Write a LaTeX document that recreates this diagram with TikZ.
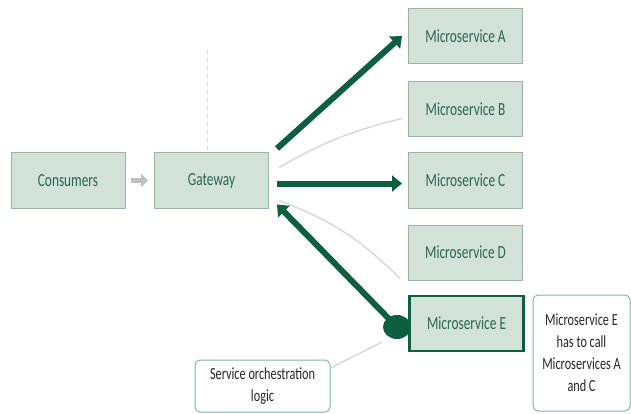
\documentclass[tikz,border=0pt]{standalone}
\usepackage{fontspec}
\setmainfont{Carlito}[FakeStretch=0.72]
\usetikzlibrary{arrows.meta}
\definecolor{boxfill}{HTML}{D3E2D8}
\definecolor{boxline}{HTML}{9DB3A4}
\definecolor{txt}{HTML}{2A6650}
\definecolor{dark}{HTML}{0E5E40}
\definecolor{faint}{HTML}{D4D4D4}
\definecolor{noteline}{HTML}{7FB8A4}
\begin{document}
\begin{tikzpicture}[x=1pt,y=-1pt,
  svc/.style={draw=boxline,line width=1pt,fill=boxfill,text=txt,minimum width=114pt,minimum height=55pt,font=\fontsize{18.5}{20}\selectfont,inner sep=0pt},
  note/.style={draw=noteline,line width=1pt,rounded corners=5pt,fill=white,text=black!85,font=\fontsize{17}{22}\selectfont,align=center,inner sep=0pt},
  flow/.style={draw=dark,line width=6pt,-{Triangle[length=10pt,width=16pt]}},
  side/.style={draw=faint,line width=1.3pt}]
\useasboundingbox (0,0) rectangle (631,414);
% gateway and consumers
\node[svc] (cons) at (68,180.5) {Consumers};
\node[svc] (gw) at (211.5,180.5) {Gateway};
% microservices
\node[svc] (a) at (465.5,36) {Microservice A};
\node[svc] (b) at (465.5,109.5) {Microservice B};
\node[svc] (c) at (465.5,180.5) {Microservice C};
\node[svc] (d) at (465.5,252.5) {Microservice D};
\node[svc,draw=dark,line width=2.5pt] (e) at (466.5,323.5) {Microservice E};
% annotations
\node[note,minimum width=97pt,minimum height=116pt] (n1) at (581.5,353) {Microservice E\\has to call\\Microservices A\\and C};
\node[note,minimum width=135pt,minimum height=52pt] (n2) at (262.5,386) {Service orchestration\\logic};
% consumer to gateway block arrow
\draw[draw=faint!90!black,line width=5pt,-{Triangle[length=7pt,width=13pt]}] (cons.east)++(5,0) -- ([xshift=-6pt]gw.west);
% dashed line above the gateway
\coordinate (top) at (207,50);
\draw[faint,line width=1pt,dash pattern=on 4pt off 4pt] (top) -- (gw.north -| top);
% calls from the gateway
\draw[flow] ([shift={(8,-32)}]gw.east) -- ([shift={(-6,0)}]a.west);
\draw[flow] ([shift={(8,3)}]gw.east) -- ([shift={(-6,3)}]c.west);
\draw[side] ([shift={(10,-13)}]gw.east) to[bend left=8] ([shift={(-6,9)}]b.west);
\draw[side] ([shift={(10,20)}]gw.east) to[bend left=12] ([shift={(-8,26)}]d.west);
% orchestration call back from E
\coordinate (dot) at (397,327);
\draw[flow] (dot) -- ([shift={(8,24)}]gw.east);
\fill[dark] (dot) ellipse (14pt and 12pt);
\draw[faint,line width=1.3pt] (n2.east) ++(0,-18) -- ([shift={(-15,15)}]dot);
\end{tikzpicture}
\end{document}
